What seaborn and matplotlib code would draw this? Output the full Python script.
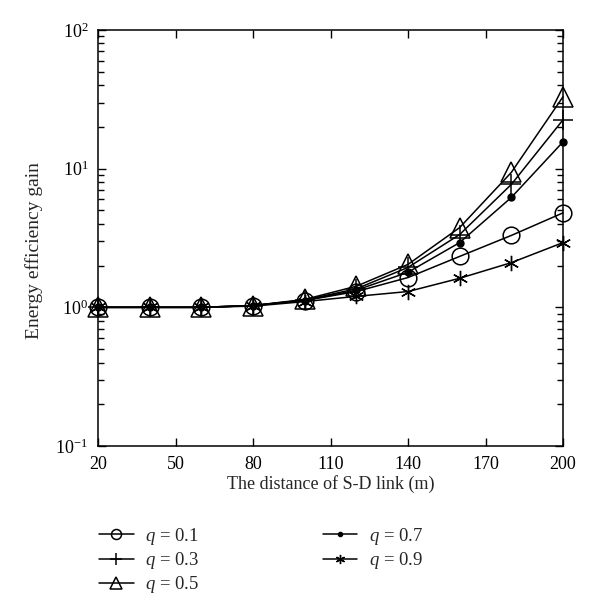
import numpy as np
import pandas as pd
import matplotlib
matplotlib.use("Agg")
import matplotlib.pyplot as plt
import seaborn as sns

distance = [20, 40, 60, 80, 100, 120, 140, 160, 180, 200]
q_labels = ["$q$ = 0.1", "$q$ = 0.3", "$q$ = 0.5", "$q$ = 0.7", "$q$ = 0.9"]
gain_q01 = [1.0, 1.0, 1.0, 1.03, 1.12, 1.30, 1.64, 2.33, 3.30, 4.8]
gain_q03 = [1.0, 1.0, 1.0, 1.03, 1.13, 1.36, 1.94, 3.35, 7.7, 22.5]
gain_q05 = [1.0, 1.0, 1.0, 1.03, 1.14, 1.42, 2.04, 3.76, 9.4, 33.0]
gain_q07 = [1.0, 1.0, 1.0, 1.03, 1.12, 1.33, 1.79, 2.93, 6.2, 15.6]
gain_q09 = [1.0, 1.0, 1.0, 1.02, 1.10, 1.20, 1.30, 1.62, 2.10, 2.93]
series = [gain_q01, gain_q03, gain_q05, gain_q07, gain_q09]

sns.set_style("ticks")
plt.rcParams["font.family"] = ["Liberation Serif", "DejaVu Serif"]
plt.rcParams["mathtext.fontset"] = "custom"
plt.rcParams["mathtext.rm"] = "Liberation Serif"
plt.rcParams["mathtext.it"] = "Liberation Serif:italic"

fig = plt.figure(figsize=(6.0, 6.15), dpi=100)
ax = fig.add_axes([98/600, 1-446/615, (563-98)/600, (446-30)/615])

styles = [
    dict(marker="o", markersize=12, mfc="none", mec="k", mew=1.1),
    dict(marker="+", markersize=15, mec="k", mew=1.1),
    dict(marker="^", markersize=14, mfc="none", mec="k", mew=1.1),
    dict(marker="o", markersize=5, mfc="k", mec="k", mew=1.0),
    dict(marker=(6, 2, 0), markersize=11, mec="k", mew=1.0),
]

for lab, vals, st in zip(q_labels, series, styles):
    df = pd.DataFrame({"d": distance, "g": vals})
    sns.lineplot(data=df, x="d", y="g", ax=ax, color="k", linewidth=1.1,
                 label=lab, legend=False, clip_on=False, **st)

ax.set_yscale("log")
ax.set_xlim(20, 200)
ax.set_ylim(0.1, 100)
ax.set_xticks([20, 50, 80, 110, 140, 170, 200])
ax.set_yticks([0.1, 1, 10, 100])
ax.set_yticklabels(["$10^{-1}$", "$10^{0}$", "$10^{1}$", "$10^{2}$"])
ax.tick_params(axis="both", which="both", direction="in", top=True, right=True,
               colors="k")
ax.tick_params(axis="x", which="major", labelsize=13, pad=7)
ax.tick_params(axis="y", which="major", labelsize=13, pad=7)
ax.tick_params(axis="both", which="major", length=6, width=1.0)
ax.tick_params(axis="both", which="minor", length=4, width=1.0)
for s in ax.spines.values():
    s.set_linewidth(1.1)
    s.set_color("k")
ax.set_xlabel("The distance of S-D link (m)", fontsize=13, labelpad=2)
ax.set_ylabel("Energy efficiency gain", fontsize=14)
ax.yaxis.set_label_coords(-0.118, 0.471)

handles, labels = ax.get_legend_handles_labels()
fig.legend(handles, labels, loc="upper left", bbox_to_anchor=(82/600, 1-509/615),
           ncol=2, frameon=False, fontsize=13.5, markerscale=0.6,
           handlelength=1.85, labelspacing=0.17, columnspacing=6.6, handletextpad=0.6)

fig.savefig("out.png", dpi=100, facecolor="white")
